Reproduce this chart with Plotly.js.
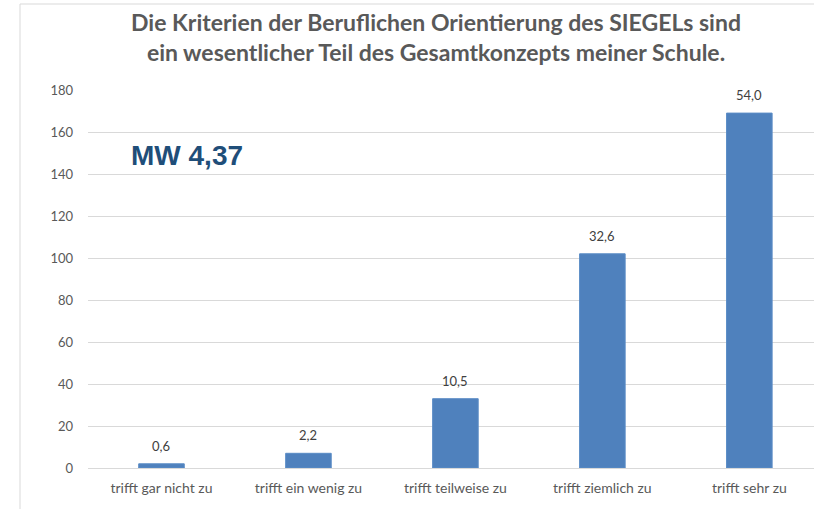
<!DOCTYPE html>
<html>
<head>
<meta charset="utf-8">
<script src="https://cdn.plot.ly/plotly-3.0.1.min.js"></script>
<style>
  html, body { margin: 0; padding: 0; background: #ffffff; }
  #chart { width: 814px; height: 509px; }
</style>
</head>
<body>
<div id="chart"></div>
<script>
// Data
var categories = ["trifft gar nicht zu", "trifft ein wenig zu", "trifft teilweise zu", "trifft ziemlich zu", "trifft sehr zu"];
var counts = [2, 7, 33, 102, 169];
var percents = [0.6, 2.2, 10.5, 32.6, 54.0];
var yTicks = [0, 20, 40, 60, 80, 100, 120, 140, 160, 180];
var titleText = "Die Kriterien der Beruflichen Orientierung des SIEGELs sind<br>ein wesentlicher Teil des Gesamtkonzepts meiner Schule.";
var meanText = "MW 4,37";

function fmt(v) { return v.toFixed(1).replace('.', ','); }

var trace = {
  type: 'bar',
  x: categories,
  y: counts,
  marker: { color: '#4F81BD', line: { color: '#5B8CC6', width: 1 } },
  width: 0.31,
  hoverinfo: 'none'
};

var annotations = categories.map(function (c, i) {
  return {
    x: c, y: counts[i], xref: 'x', yref: 'y',
    text: fmt(percents[i]),
    showarrow: false, yanchor: 'middle', yshift: 18,
    font: { family: 'Lato, "Open Sans", sans-serif', size: 13, color: '#404040' }
  };
});
annotations.push({
  xref: 'paper', yref: 'paper',
  x: (129 - 88) / 726, y: (468 - 155) / 378,
  xanchor: 'left', yanchor: 'middle',
  text: '<b>' + meanText + '</b>',
  showarrow: false,
  font: { family: '"Liberation Sans", Arial, sans-serif', size: 28, color: '#1F4E79' }
});

var layout = {
  width: 814, height: 509,
  margin: { l: 88, r: 0, t: 90, b: 41, pad: 0 },
  paper_bgcolor: '#ffffff', plot_bgcolor: '#ffffff',
  showlegend: false,
  title: {
    text: '<b>' + titleText + '</b>',
    x: 436 / 814, xref: 'container', xanchor: 'center',
    y: 1 - 31 / 509, yref: 'container', yanchor: 'middle',
    font: { family: 'Lato, "Open Sans", sans-serif', size: 23, color: '#595959' }
  },
  xaxis: {
    type: 'category',
    range: [-0.5, 4.44],
    showgrid: false, zeroline: false, showline: false,
    ticks: '', ticklabelstandoff: 10,
    tickfont: { family: 'Lato, "Open Sans", sans-serif', size: 14, color: '#595959' },
    fixedrange: true
  },
  yaxis: {
    range: [0, 180],
    tickvals: yTicks,
    ticktext: yTicks.map(String),
    showgrid: true, gridcolor: '#D9D9D9', gridwidth: 1,
    zeroline: true, zerolinecolor: '#D9D9D9', zerolinewidth: 1,
    showline: false, ticks: '', ticklabelstandoff: 14,
    tickfont: { family: 'Lato, "Open Sans", sans-serif', size: 13, color: '#595959' },
    fixedrange: true
  },
  shapes: [{
    type: 'rect', xref: 'paper', yref: 'paper',
    x0: (20 - 88) / 726, x1: 1.05,
    y0: -0.3, y1: (468 - 4) / 378,
    line: { color: '#D9D9D9', width: 1 }, fillcolor: 'rgba(0,0,0,0)', layer: 'below'
  }],
  annotations: annotations
};

Plotly.newPlot('chart', [trace], layout, { displayModeBar: false, staticPlot: true });
</script>
</body>
</html>
